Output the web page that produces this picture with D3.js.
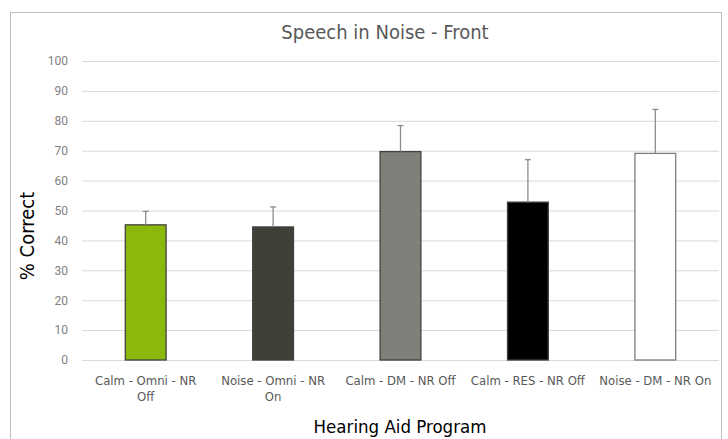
<!DOCTYPE html>
<html>
<head>
<meta charset="utf-8">
<script src="https://cdn.jsdelivr.net/npm/d3@7"></script>
<style>
  body { margin: 0; background: #fff; }
</style>
</head>
<body>
<div id="chart"></div>
<script>
// data
var programs = ["Calm - Omni - NR Off", "Noise - Omni - NR On", "Calm - DM - NR Off", "Calm - RES - NR Off", "Noise - DM - NR On"];
var labelLines = [["Calm - Omni - NR", "Off"], ["Noise - Omni - NR", "On"], ["Calm - DM - NR Off"], ["Calm - RES - NR Off"], ["Noise - DM - NR On"]];
var means = [45.2, 44.5, 69.7, 52.8, 69.1];
var errors = [4.5, 6.7, 8.7, 14.2, 14.7];
var barColors = ["#8ab90b", "#3f3f38", "#7f807a", "#000000", "#ffffff"];
var yTicks = [0, 10, 20, 30, 40, 50, 60, 70, 80, 90, 100];

var W = 728, H = 439;
var margin = {left: 82, right: 9, top: 61, bottom: 79};
var narrow = "'Liberation Sans Narrow', 'DejaVu Sans Condensed', sans-serif";

var svg = d3.select("#chart")
  .append("svg")
    .attr("width", W)
    .attr("height", H);

// chart frame
svg.append("rect")
  .attr("x", 10.5).attr("y", 12.5)
  .attr("width", 711).attr("height", 440)
  .attr("fill", "#fff")
  .attr("stroke", "#bfbfbf")
  .attr("stroke-width", 1);

var x = d3.scaleBand()
  .domain(programs)
  .range([margin.left, W - margin.right])
  .paddingInner(0.68)
  .paddingOuter(0.34);

var y = d3.scaleLinear()
  .domain([0, 100])
  .range([H - margin.bottom, margin.top]);

// gridlines + y labels
var yAxis = svg.append("g")
  .attr("transform", "translate(" + margin.left + ",0)")
  .call(d3.axisLeft(y).tickValues(yTicks).tickSize(-(W - margin.right - margin.left)).tickPadding(14));
yAxis.select(".domain").remove();
yAxis.selectAll(".tick line").attr("stroke", "#d9d9d9").attr("stroke-width", 1);
yAxis.selectAll(".tick text")
  .attr("fill", "#7f7f7f")
  .style("font-family", "Roboto, sans-serif")
  .style("font-size", "12px");

// bars
svg.append("g")
  .selectAll("rect")
  .data(programs)
  .enter()
  .append("rect")
    .attr("x", function(d){ return x(d); })
    .attr("y", function(d, i){ return y(means[i]); })
    .attr("width", x.bandwidth())
    .attr("height", function(d, i){ return y(0) - y(means[i]); })
    .attr("fill", function(d, i){ return barColors[i]; })
    .attr("stroke", function(d, i){ return i == 4 ? "#7f7f7f" : "#404040"; })
    .attr("stroke-width", 1.3);

// error bars (plus only)
var err = svg.append("g")
  .selectAll("g")
  .data(programs)
  .enter()
  .append("g");
err.append("line")
  .attr("x1", function(d){ return x(d) + x.bandwidth() / 2; })
  .attr("x2", function(d){ return x(d) + x.bandwidth() / 2; })
  .attr("y1", function(d, i){ return y(means[i]); })
  .attr("y2", function(d, i){ return y(means[i] + errors[i]); })
  .attr("stroke", "#8c8c8c")
  .attr("stroke-width", 1.3);
err.append("line")
  .attr("x1", function(d){ return x(d) + x.bandwidth() / 2 - 3; })
  .attr("x2", function(d){ return x(d) + x.bandwidth() / 2 + 3; })
  .attr("y1", function(d, i){ return y(means[i] + errors[i]); })
  .attr("y2", function(d, i){ return y(means[i] + errors[i]); })
  .attr("stroke", "#8c8c8c")
  .attr("stroke-width", 1.3);

// x category labels
var xl = svg.append("g")
  .selectAll("text")
  .data(programs)
  .enter()
  .append("text")
    .attr("x", function(d){ return x(d) + x.bandwidth() / 2; })
    .attr("y", 385)
    .attr("text-anchor", "middle")
    .attr("fill", "#595959")
    .style("font-family", narrow)
    .style("font-size", "13px");
xl.selectAll("tspan")
  .data(function(d, i){ return labelLines[i]; })
  .enter()
  .append("tspan")
    .attr("x", function(){ return d3.select(this.parentNode).attr("x"); })
    .attr("dy", function(d, j){ return j == 0 ? 0 : 16; })
    .text(function(d){ return d; });

// titles
svg.append("text")
  .attr("x", 385).attr("y", 39)
  .attr("text-anchor", "middle")
  .attr("fill", "#595959")
  .style("font-family", narrow)
  .style("font-size", "20px")
  .text("Speech in Noise - Front");

svg.append("text")
  .attr("transform", "translate(34,236) rotate(-90)")
  .attr("text-anchor", "middle")
  .attr("fill", "#000")
  .style("font-family", narrow)
  .style("font-size", "20px")
  .text("% Correct");

svg.append("text")
  .attr("x", 400).attr("y", 433)
  .attr("text-anchor", "middle")
  .attr("fill", "#000")
  .style("font-family", narrow)
  .style("font-size", "18.5px")
  .text("Hearing Aid Program");
</script>
</body>
</html>
